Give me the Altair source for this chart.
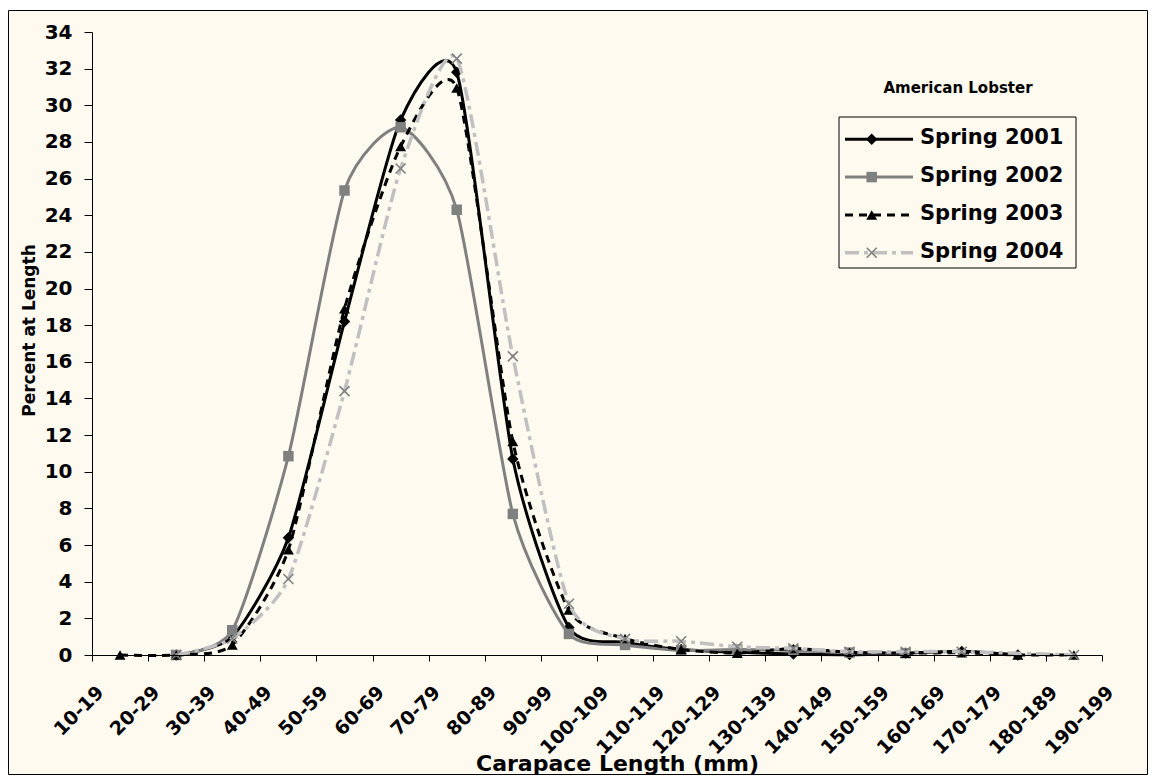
import altair as alt
import pandas as pd

# ---------------- data ----------------
tick_labels = ["10-19", "20-29", "30-39", "40-49", "50-59", "60-69", "70-79",
               "80-89", "90-99", "100-109", "110-119", "120-129", "130-139",
               "140-149", "150-159", "160-169", "170-179", "180-189", "190-199"]

# lower bound of each length class that has data (mm)
bin_lower = [10, 20, 30, 40, 50, 60, 70, 80, 90, 100, 110, 120, 130, 140, 150, 160, 170, 180]

spring_2001 = [None, 0.0, 1.0, 6.4, 18.2, 29.2, 31.8, 10.7, 1.5, 0.7, 0.3, 0.15, 0.05, 0.02, 0.1, 0.2, 0.0, None]
spring_2002 = [None, 0.0, 1.35, 10.85, 25.35, 28.8, 24.3, 7.7, 1.15, 0.55, 0.25, 0.3, 0.25, 0.13, 0.1, None, None, None]
spring_2003 = [0.0, 0.0, 0.55, 5.75, 18.9, 27.75, 30.95, 11.65, 2.45, 0.9, 0.3, 0.1, 0.35, 0.15, 0.1, 0.12, 0.0, 0.0]
spring_2004 = [None, 0.0, 0.9, 4.15, 14.4, 26.55, 32.55, 16.3, 2.8, 0.88, 0.75, 0.45, 0.36, 0.18, 0.18, 0.18, None, 0.0]

series_names = ["Spring 2001", "Spring 2002", "Spring 2003", "Spring 2004"]
series_values = [spring_2001, spring_2002, spring_2003, spring_2004]

chart_title = "American Lobster"
x_title = "Carapace Length (mm)"
y_title = "Percent at Length"

# ---------------- styles ----------------
CREAM = "#FFFAF0"
FONT = "DejaVu Sans"
X_SHAPE = "M-1,-1L1,1M1,-1L-1,1"
TENSION = 0.35

styles = {
    "Spring 2001": dict(line="#000000", dash=None, marker="#000000", shape="diamond", size=130, filled=True, width=3),
    "Spring 2002": dict(line="#808080", dash=None, marker="#808080", shape="square", size=110, filled=True, width=3),
    "Spring 2003": dict(line="#000000", dash=[8, 6], marker="#000000", shape="triangle-up", size=120, filled=True, width=3),
    "Spring 2004": dict(line="#C0C0C0", dash=[14, 5, 4, 5], marker="#808080", shape=X_SHAPE, size=100, filled=False, width=3.5),
}

tick_values = [int(t.split("-")[0]) for t in tick_labels]
label_expr = "[" + ",".join("'%s'" % t for t in tick_labels) + "][round((datum.value - %d) / 10)]" % tick_values[0]

x_axis = alt.Axis(
    values=tick_values, labelExpr=label_expr, title=x_title, grid=False, zindex=2,
    labelAngle=-45, labelAlign="right", labelBaseline="middle", labelOffset=8,
    labelPadding=28, tickSize=6, labelOverlap=False, labelFlush=False,
    labelFont=FONT, labelFontWeight="bold", labelFontSize=19, labelColor="black",
    titleFont=FONT, titleFontWeight="bold", titleFontSize=22, titleColor="black",
    titleX=525, titleY=115, titleAlign="center", titleBaseline="alphabetic",
    domainColor="black", domainWidth=1, tickColor="black", tickWidth=1,
)
y_axis = alt.Axis(
    values=list(range(0, 35, 2)), title=y_title, grid=False, zindex=2,
    tickSize=8, labelPadding=12,
    labelFont=FONT, labelFontWeight="bold", labelFontSize=20, labelColor="black",
    titleFont=FONT, titleFontWeight="bold", titleFontSize=17, titleColor="black",
    titleAngle=270, titleX=-63, titleY=298, titleAlign="center", titleBaseline="middle",
    domainColor="black", domainWidth=1, tickColor="black", tickWidth=1,
)

x_enc = alt.X("mm:Q", scale=alt.Scale(domain=[10, 190], nice=False, zero=False), axis=x_axis)
y_enc = alt.Y("pct:Q", scale=alt.Scale(domain=[0, 34], nice=False, zero=True), axis=y_axis)


def series_frame(name, values):
    rows = [{"series": name, "mm": lo + 5, "pct": v}
            for lo, v in zip(bin_lower, values) if v is not None]
    return pd.DataFrame(rows)


def point_mark(st):
    kw = dict(shape=st["shape"], size=st["size"], opacity=1)
    if st["filled"]:
        kw.update(filled=True, color=st["marker"], strokeWidth=0)
    else:
        kw.update(filled=False, stroke=st["marker"], strokeWidth=1.6)
    return kw


def line_mark(st):
    kw = dict(interpolate="cardinal", tension=TENSION, color=st["line"], strokeWidth=st["width"])
    if st["dash"]:
        kw["strokeDash"] = st["dash"]
    return kw


dummy = pd.DataFrame({"k": [0]})

layers = []
# outer chart border / background
layers.append(
    alt.Chart(dummy).mark_rect(fill=CREAM, stroke="black", strokeWidth=1).encode(
        x=alt.value(-83.5), x2=alt.value(1055.5), y=alt.value(-21.5), y2=alt.value(742.5))
)

for name, vals in zip(series_names, series_values):
    st = styles[name]
    df = series_frame(name, vals)
    layers.append(alt.Chart(df).mark_line(**line_mark(st)).encode(x=x_enc, y=y_enc))
    layers.append(alt.Chart(df).mark_point(**point_mark(st)).encode(x=x_enc, y=y_enc))

# legend
layers.append(
    alt.Chart(dummy).mark_rect(fill=CREAM, stroke="black", strokeWidth=1).encode(
        x=alt.value(747), x2=alt.value(984), y=alt.value(85), y2=alt.value(236))
)
for i, name in enumerate(series_names):
    st = styles[name]
    ldf = pd.DataFrame({"series": [name]})
    yy = 107.3 + i * 37.8
    rkw = dict(color=st["line"], strokeWidth=st["width"])
    if st["dash"]:
        rkw["strokeDash"] = st["dash"]
    layers.append(alt.Chart(ldf).mark_rule(**rkw).encode(
        x=alt.value(753), x2=alt.value(821), y=alt.value(yy)))
    layers.append(alt.Chart(ldf).mark_point(**point_mark(st)).encode(
        x=alt.value(779.7), y=alt.value(yy)))
    layers.append(alt.Chart(ldf).mark_text(
        align="left", baseline="middle", font=FONT, fontWeight="bold",
        fontSize=21, color="black").encode(
        x=alt.value(828), y=alt.value(yy - 1), text="series:N"))

# chart title inside plot
layers.append(
    alt.Chart(dummy).mark_text(text=chart_title, align="center", baseline="middle",
                               font=FONT, fontWeight="bold", fontSize=15,
                               color="black").encode(
        x=alt.value(866), y=alt.value(56))
)

chart = alt.layer(*layers).properties(
    width=1010, height=623,
    padding={"left": 84, "top": 24, "right": 46, "bottom": 120},
    autosize=alt.AutoSizeParams(type="none"),
    background="white",
).configure_view(strokeWidth=0)

chart.save("out.html", embed_options={"renderer": "svg", "actions": False})
